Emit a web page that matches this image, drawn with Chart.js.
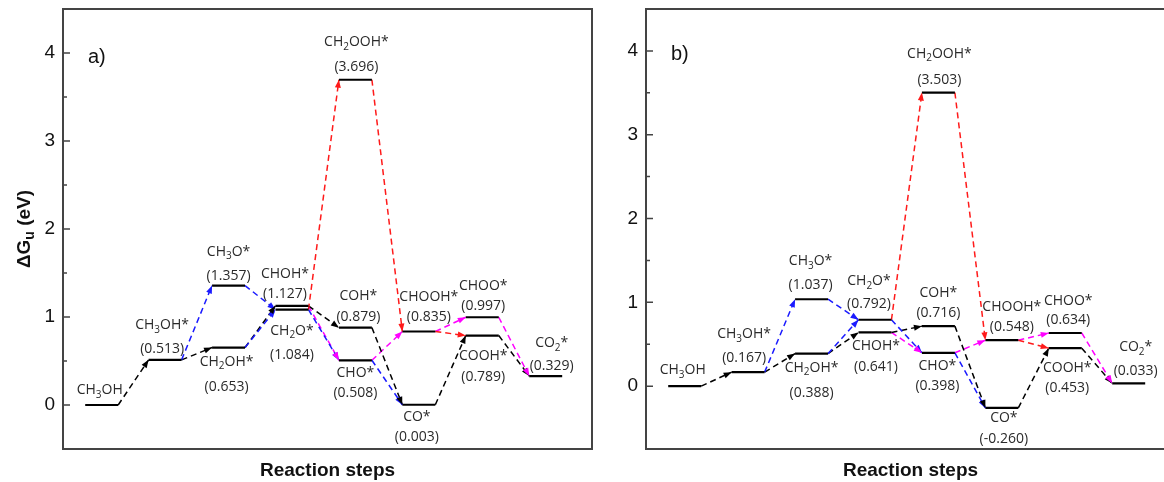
<!DOCTYPE html>
<html>
<head>
<meta charset="utf-8">
<script src="https://cdn.jsdelivr.net/npm/chart.js@4.4.1/dist/chart.umd.min.js"></script>
<style>
html, body { margin: 0; padding: 0; background: #fff; overflow: hidden; width: 1164px; height: 482px; }
canvas { position: absolute; top: 0; }
#chartA { left: 0; }
#chartB { left: 583px; }
</style>
</head>
<body>
<canvas id="chartA" width="600" height="482"></canvas>
<canvas id="chartB" width="600" height="482"></canvas>
<script>
// reaction step (column) of each intermediate
const steps = [1, 2, 3, 3, 4, 4, 5, 5, 5, 6, 6, 7, 7, 8];
const species = ['CH3OH', 'CH3OH*', 'CH3O*', 'CH2OH*', 'CH2O*', 'CHOH*', 'CH2OOH*',
                 'COH*', 'CHO*', 'CO*', 'CHOOH*', 'CHOO*', 'COOH*', 'CO2*'];
const energyA = [0, 0.513, 1.357, 0.653, 1.084, 1.127, 3.696, 0.879, 0.508, 0.003, 0.835, 0.997, 0.789, 0.329];
const energyB = [0, 0.167, 1.037, 0.388, 0.792, 0.641, 3.503, 0.716, 0.398, -0.260, 0.548, 0.634, 0.453, 0.033];
const yTickLabels = [0, 1, 2, 3, 4];

// pathways: [from, to, colour]
const links = [
    [0, 1, '#000'], [1, 2, '#1a1aff'], [1, 3, '#000'], [2, 4, '#1a1aff'], [3, 4, '#1a1aff'],
    [3, 5, '#000'], [4, 6, '#ff1a1a'], [4, 8, '#1a1aff'], [5, 7, '#000'], [5, 8, '#ff00ff'],
    [8, 9, '#1a1aff'], [7, 9, '#000'], [6, 10, '#ff1a1a'], [8, 10, '#ff00ff'], [10, 12, '#ff1a1a'],
    [10, 11, '#ff00ff'], [9, 12, '#000'], [12, 13, '#000'], [11, 13, '#ff00ff']
];

// label placement [dx, name dy, value dy] in px from the level centre
const labelPosA = [[-2,-15,null],[-3,-35,-11],[0,-34,-10],[-2,14,39],[0,21,45],[-7,-32,-12],[1,-38,-13],
                   [3,-32,-11],[0,13,33],[-2,12,32],[10,-35,-15],[1,-31,-11],[1,20,41],[6,-33,-10]];
const labelPosB = [[-2,-16,null],[-4,-38,-14],[-1,-38,-14],[0,14,39],[-6,-39,-16],[1,14,35],[1,-39,-13],
                   [0,-33,-13],[-1,13,33],[2,10,31],[10,-33,-13],[3,-32,-13],[2,20,40],[7,-36,-12]];

const halfW = 0.26;
const labelFont = '14px "Open Sans"';
const subFont = '10px "Open Sans"';

function drawChem(ctx, text, x, y) {
    const parts = text.match(/\d+|\D+/g);
    let w = 0;
    parts.forEach(p => {
        ctx.font = /\d/.test(p) ? subFont : labelFont;
        w += ctx.measureText(p).width;
    });
    let cx = x - w / 2;
    ctx.textAlign = 'left';
    parts.forEach(p => {
        const sub = /\d/.test(p);
        ctx.font = sub ? subFont : labelFont;
        ctx.fillText(p, cx, y + (sub ? 5 : 0));
        cx += ctx.measureText(p).width;
    });
}

function makePanel(id, energy, labelPos, yMin, tag, showTitle) {
    const datasets = [];
    energy.forEach((v, i) => {
        datasets.push({
            data: [{x: steps[i] - halfW, y: v}, {x: steps[i] + halfW, y: v}],
            borderColor: '#000', borderWidth: 2.2, pointRadius: 0, order: 0
        });
    });
    links.forEach(l => {
        datasets.push({
            data: [{x: steps[l[0]] + halfW, y: energy[l[0]]}, {x: steps[l[1]] - halfW, y: energy[l[1]]}],
            borderColor: l[2], borderWidth: 1.5, borderDash: [6, 4], pointRadius: 0, order: 1, isLink: true
        });
    });

    const deco = {
        id: 'deco',
        afterDatasetsDraw(chart) {
            const ctx = chart.ctx;
            const area = chart.chartArea;
            const xs = chart.scales.x, ys = chart.scales.y;
            ctx.save();
            // arrow heads
            chart.data.datasets.forEach((ds, i) => {
                if (!ds.isLink) return;
                const pts = chart.getDatasetMeta(i).data;
                const a = pts[0], b = pts[1];
                const ang = Math.atan2(b.y - a.y, b.x - a.x);
                ctx.fillStyle = ds.borderColor;
                ctx.beginPath();
                ctx.moveTo(b.x, b.y);
                ctx.lineTo(b.x - 8 * Math.cos(ang) + 3 * Math.sin(ang), b.y - 8 * Math.sin(ang) - 3 * Math.cos(ang));
                ctx.lineTo(b.x - 8 * Math.cos(ang) - 3 * Math.sin(ang), b.y - 8 * Math.sin(ang) + 3 * Math.cos(ang));
                ctx.closePath();
                ctx.fill();
            });
            // labels
            ctx.fillStyle = '#2a2a2a';
            ctx.textBaseline = 'middle';
            energy.forEach((v, i) => {
                const px = xs.getPixelForValue(steps[i]) + labelPos[i][0];
                const py = ys.getPixelForValue(v);
                drawChem(ctx, species[i], px, py + labelPos[i][1]);
                if (labelPos[i][2] !== null) {
                    ctx.font = labelFont;
                    ctx.textAlign = 'center';
                    ctx.fillText('(' + v.toFixed(3) + ')', px, py + labelPos[i][2]);
                }
            });
            // frame
            ctx.strokeStyle = '#444';
            ctx.lineWidth = 2;
            ctx.strokeRect(area.left, area.top, area.right - area.left, area.bottom - area.top);
            // inward ticks
            ctx.lineWidth = 1.5;
            ctx.beginPath();
            ys.ticks.forEach(t => {
                if (Math.abs(t.value * 2 - Math.round(t.value * 2)) > 1e-6) return;
                const y = ys.getPixelForValue(t.value);
                if (y <= area.top + 1 || y >= area.bottom - 1) return;
                const len = Number.isInteger(t.value) ? 7 : 4;
                ctx.moveTo(area.left, y);
                ctx.lineTo(area.left + len, y);
            });
            ctx.stroke();
            // panel tag
            ctx.fillStyle = '#111';
            ctx.font = '20px "Liberation Sans", Arial';
            ctx.textAlign = 'left';
            ctx.fillText(tag, area.left + 25, ys.getPixelForValue(4) + 4);
            // y title with subscript
            if (showTitle) {
                ctx.translate(25, (area.top + area.bottom) / 2);
                ctx.rotate(-Math.PI / 2);
                const segs = [['ΔG', 'bold 19px "Liberation Sans", Arial', 0], ['u', 'bold 14px "Liberation Sans", Arial', 5], [' (eV)', 'bold 19px "Liberation Sans", Arial', 0]];
                let w = 0;
                segs.forEach(s => { ctx.font = s[1]; w += ctx.measureText(s[0]).width; });
                let cx = -w / 2;
                segs.forEach(s => {
                    ctx.font = s[1];
                    ctx.fillText(s[0], cx, s[2]);
                    cx += ctx.measureText(s[0]).width;
                });
            }
            ctx.restore();
        }
    };

    return new Chart(document.getElementById(id), {
        type: 'line',
        data: { datasets },
        options: {
            responsive: false,
            animation: false,
            layout: { padding: { top: 9, right: 8, left: 0, bottom: 0 } },
            plugins: { legend: { display: false }, tooltip: { enabled: false } },
            scales: {
                x: {
                    type: 'linear', min: 0.39, max: 8.73,
                    grid: { display: false, drawTicks: false }, border: { display: false },
                    ticks: { display: false },
                    title: { display: true, text: 'Reaction steps', color: '#111',
                             font: { family: '"Liberation Sans", Arial', size: 19, weight: 'bold' },
                             padding: { top: 0, bottom: 0 } },
                    afterFit: s => { s.height = 33; s.paddingLeft = 0; s.paddingRight = 0; }
                },
                y: {
                    min: yMin, max: 4.5,
                    grid: { display: false, drawTicks: false }, border: { display: false },
                    ticks: {
                        stepSize: 0.5, padding: 8, color: '#111',
                        font: { family: '"Liberation Sans", Arial', size: 19 },
                        callback: v => yTickLabels.includes(v) ? v : ''
                    },
                    afterFit: s => { s.width = 63; s.paddingTop = 0; s.paddingBottom = 0; }
                }
            }
        },
        plugins: [deco]
    });
}

makePanel('chartA', energyA, labelPosA, -0.5, 'a)', true);
makePanel('chartB', energyB, labelPosB, -0.75, 'b)', false);
</script>
</body>
</html>
